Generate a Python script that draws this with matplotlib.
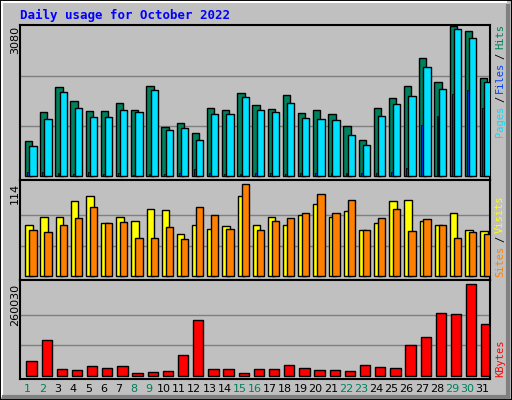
import matplotlib
matplotlib.use("Agg")
import matplotlib.pyplot as plt
from matplotlib.patches import Rectangle
import numpy as np

days = list(range(1, 32))
weekend = [1, 2, 8, 9, 15, 16, 22, 23, 29, 30]
hits = [712,1320,1823,1530,1341,1341,1509,1362,1844,1006,1090,880,1404,1362,1697,1467,
        1383,1655,1299,1362,1278,1027,733,1404,1592,1844,2430,1928,3080,2975,2011]
files = [608,1173,1718,1404,1215,1215,1362,1320,1760,943,985,733,1278,1278,1613,1362,
         1320,1509,1194,1173,1152,838,629,1236,1488,1634,2242,1781,3017,2829,1928]
pages = [84,84,63,42,84,42,63,21,42,42,63,147,63,42,42,63,63,42,63,63,63,63,63,63,84,
         168,1055,1236,1676,1760,1404]
visits = [63,74,74,93,99,66,74,68,83,82,53,63,58,62,99,64,73,64,76,90,74,81,57,66,93,
          94,69,64,79,57,56]
sites = [57,55,63,72,86,66,67,47,47,61,46,86,76,58,114,57,69,72,78,102,78,94,57,72,83,
         56,71,63,47,55,52]
kbytes = [40807,100594,18031,15184,26572,20878,26572,6643,9490,12337,57889,157534,18031,
          18031,6643,18031,18031,29419,20878,15184,15184,12337,29419,23725,20878,86359,
          109135,177463,174616,260030,146146]
title = "Daily usage for October 2022"

W, H = 512, 400
fig = plt.figure(figsize=(W/100, H/100), dpi=100, facecolor="#C0C0C0")
mono = "DejaVu Sans Mono"

def ax_px(x0, y0, x1, y1):
    return fig.add_axes([x0/W, 1-y1/H, (x1-x0)/W, (y1-y0)/H])

# outer frame
fig.add_artist(Rectangle((0, 0), 1, 1, transform=fig.transFigure, fill=False, ec="black", lw=1.5))
fig.add_artist(plt.Line2D([2/W, 2/W], [4/H, 1-2/H], color="white", lw=1.5))
fig.add_artist(plt.Line2D([2/W, 1-6/W], [1-2/H, 1-2/H], color="white", lw=1.5))
fig.add_artist(plt.Line2D([1-4/W, 1-4/W], [3/H, 1-6/H], color="#808080", lw=3))
fig.add_artist(plt.Line2D([4/W, 1-4/W], [3/H, 3/H], color="#808080", lw=3))

fig.text(20/W, 1-15/H, title, color="#0000FF", fontsize=9, fontweight="bold",
         family=mono, va="center", ha="left")

def style(ax, ymax, lower, upper):
    ax.set_facecolor("#C0C0C0")
    ax.set_xlim(0.5, 31.5)
    ax.set_ylim(lower, upper)
    for g in (ymax/3, 2*ymax/3):
        ax.axhline(g, color="#808080", lw=1, zorder=0)
    ax.set_xticks([]); ax.set_yticks([])
    for s in ax.spines.values():
        s.set_color("black"); s.set_linewidth(1.5)

d = np.array(days)
# top panel
ax1 = ax_px(20, 25, 490, 180)
k1 = 3080/150
style(ax1, 3080, -4*k1, 3080+1*k1)
ax1.bar(d-0.17, hits, width=0.48, align="edge", color="#00805C", ec="black", lw=1, zorder=2)
ax1.bar(d-0.02, pages, width=0.12, align="edge", color="#0040FF", ec="black", lw=0.6, zorder=2.5)
ax1.bar(d+0.11, files, width=0.48, align="edge", color="#00E0FF", ec="black", lw=1, zorder=3)
fig.text(15/W, 1-26/H, "3080", rotation=90, ha="center", va="top", fontsize=8)

# middle
ax2 = ax_px(20, 180, 490, 280)
k2 = 114/92
style(ax2, 114, -3.7*k2, 114+4.3*k2)
ax2.bar(d-0.15, visits, width=0.5, align="edge", color="#FFFF00", ec="black", lw=1, zorder=2)
ax2.bar(d+0.11, sites, width=0.48, align="edge", color="#FF8000", ec="black", lw=1, zorder=3)
fig.text(15/W, 1-183/H, "114", rotation=90, ha="center", va="top", fontsize=8)

# bottom
ax3 = ax_px(20, 280, 490, 379)
k3 = 260030/91.4
style(ax3, 260030, -3.3*k3, 260030+4.3*k3)
ax3.bar(d-0.08, kbytes, width=0.68, align="edge", color="#FF0000", ec="black", lw=1, zorder=2)
fig.text(15/W, 1-284/H, "260030", rotation=90, ha="center", va="top", fontsize=8)

for day in days:
    x = 20 + (day - 0.5) * 470/31
    fig.text(x/W, 1-389/H, str(day), ha="center", va="center", fontsize=8,
             color="#00805C" if day in weekend else "black")

def side(parts, ybottom):
    y = ybottom
    for txt, col in parts:
        fig.text(500/W, 1-y/H, txt, rotation=90, ha="center", va="bottom",
                 color=col, fontsize=7.5, family=mono)
        y -= len(txt) * 6.3 + 3

side([("Pages", "#00E0FF"), ("/", "black"), ("Files", "#0040FF"), ("/", "black"), ("Hits", "#00805C")], 137)
side([("Sites", "#FF8000"), ("/", "black"), ("Visits", "#FFFF00")], 277)
side([("KBytes", "#FF0000")], 377)

fig.savefig("out.png", dpi=100, facecolor=fig.get_facecolor())
